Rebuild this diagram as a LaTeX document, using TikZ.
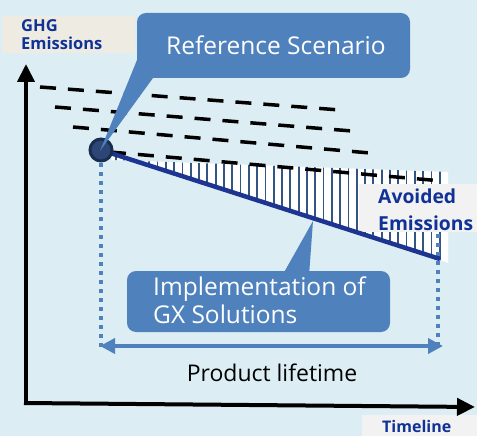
\documentclass[tikz,border=0pt]{standalone}
\usepackage{fontspec}
\setmainfont{Open Sans}
\usetikzlibrary{arrows.meta}
\definecolor{bg}{RGB}{220,238,244}
\definecolor{callout}{RGB}{79,129,189}
\definecolor{navy}{RGB}{30,52,145}
\definecolor{labelblue}{RGB}{16,50,150}
\definecolor{beige}{RGB}{238,236,226}
\definecolor{lgray}{RGB}{242,242,242}
\definecolor{stripe}{RGB}{50,85,130}
\definecolor{dotfill}{RGB}{45,70,118}
\definecolor{dotring}{RGB}{25,45,80}
\begin{document}
\begin{tikzpicture}[x=1pt,y=-1pt,
  axis/.style={line width=4pt, -{Triangle[length=18pt,width=17pt]}},
  refline/.style={line width=3.5pt, dash pattern=on 16pt off 12pt},
  dotline/.style={callout, line width=3.5pt, dash pattern=on 3.5pt off 5.5pt},
  callbox/.style={fill=callout, rounded corners=9pt, inner sep=0pt},
  calltext/.style={white, font=\fontsize{24.5}{28}\selectfont, inner sep=0pt},
  lab/.style={labelblue, font=\bfseries\fontsize{16.5}{18}\selectfont, anchor=base west, inner sep=0pt},
  biglab/.style={labelblue, font=\bfseries\fontsize{19.3}{27}\selectfont, anchor=base west, inner sep=0pt},
]
\fill[bg] (0,0) rectangle (477,436);
\useasboundingbox (0,0) rectangle (477,436);

% label boxes
\fill[beige] (2,16) rectangle (135,53);
\fill[lgray] (362,415) rectangle (477,436);

% axes
\coordinate (yb) at (26,405);
\coordinate (yt) at (26,64);
\coordinate (xl) at (24,403);
\coordinate (xr) at (475,407);
\draw[axis] (yb) -- (yt);
\draw[axis] (xl) -- (xr);

% reference dashed lines
\coordinate (a1) at (40,87);   \coordinate (b1) at (340,110);
\coordinate (a2) at (55,107);  \coordinate (b2) at (352,131);
\coordinate (a3) at (73,127);  \coordinate (b3) at (370,153);
\coordinate (a4) at (110,152); \coordinate (b4) at (442,181);

% hatch
\begin{scope}
\clip (110,153) -- (112,160) -- (448,172) -- (448,263) -- (440,260) -- cycle;
\fill[white] (100,140) rectangle (450,270);
\foreach \x in {116,124.3,...,448} \draw[stripe, line width=1.8pt] (\x,140) -- (\x,270);
\end{scope}

\draw[refline] (a1) -- (b1);
\draw[refline] (a2) -- (b2);
\draw[refline] (a3) -- (b3);
\draw[refline] (a4) -- (b4);

% avoided label box
\fill[lgray] (359,184) rectangle (477,232);

% dotted verticals
\coordinate (lt) at (101,163);
\coordinate (lb) at (101,350);
\coordinate (rt) at (438,234);
\coordinate (rb) at (438,350);
\draw[dotline] (lt) -- (lb);
\draw[dotline] (rt) -- (rb);

% solid line
\coordinate (s0) at (101,150);
\coordinate (s1) at (440,259);
\draw[navy, line width=4.5pt] (s0) -- (s1);
\node[circle, fill=dotfill, draw=dotring, line width=3pt, minimum size=22pt, inner sep=0pt] (dot) at (s0) {};

% reference scenario callout
\node[callbox, minimum width=273pt, minimum height=65pt] (ref) at (273.5,45.5) {};
\fill[callout] (137,60) -- (100,151) -- (153,78) -- (160,70) -- cycle;
\node[calltext] (reftxt) at (276,45) {Reference Scenario};

% implementation callout
\node[callbox, minimum width=263pt, minimum height=61pt] (impl) at (258.5,301.5) {};
\fill[callout] (282,276) -- (313,221) -- (309,276) -- cycle;
\node[calltext, anchor=base west] (impl1) at (153,295) {Implementation of};
\node[calltext, anchor=base west] (impl2) at (153,323) {GX Solutions};

% lifetime arrow
\coordinate (la) at (100,346);
\coordinate (ra) at (443,346);
\draw[callout, line width=4pt, {Triangle[length=15pt,width=15pt]}-{Triangle[length=15pt,width=15pt]}] (la) -- (ra);
\node[font=\fontsize{23}{26}\selectfont, inner sep=0pt] (life) at (272,373) {Product lifetime};

% labels
\node[lab] (ghg) at (21,32) {GHG};
\node[lab] (ems) at (21,50) {Emissions};
\node[lab, font=\bfseries\fontsize{16}{18}\selectfont] (tl) at (382,432) {Timeline};
\node[biglab] (av) at (378,203) {Avoided};
\node[biglab] (ae) at (378,230) {Emissions};
\end{tikzpicture}
\end{document}
